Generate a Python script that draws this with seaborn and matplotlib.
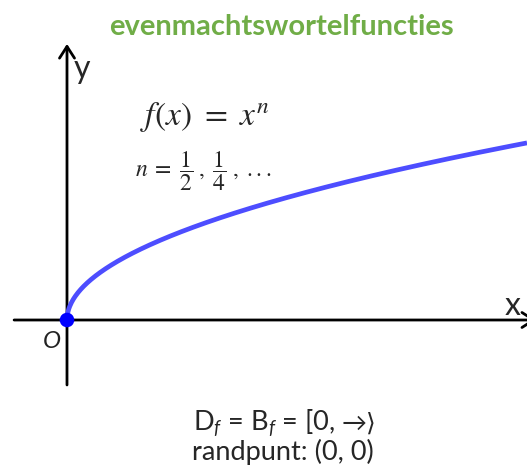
import numpy as np
import pandas as pd
import seaborn as sns
import matplotlib.pyplot as plt

# --------------------------- DATA ---------------------------
title_text = "evenmachtswortelfuncties"
formula_text = r"$f(x)\ =\ x^n$"
exponent_text = r"$n\;=\;\dfrac{1}{2}\;,\;\dfrac{1}{4}\;,\;...$"
domain_text = r"D$_f$ = B$_f$ = [0,"
domain_tail = "→⟩"
endpoint_text = "randpunt: (0, 0)"

n_exp = 0.5                      # curve shown: f(x) = x^(1/2)
x_max = 10.0
endpoint = [0.0, 0.0]            # randpunt (0, 0)

# --------------------------- STYLE ---------------------------
sns.set_theme(style="white")
plt.rcParams["font.family"] = ["Lato", "DejaVu Sans"]
plt.rcParams["mathtext.fontset"] = "custom"
plt.rcParams["mathtext.rm"] = "Lato"
plt.rcParams["mathtext.it"] = "Lato:italic"

fig = plt.figure(figsize=(5.27, 4.73), dpi=100)
ax = fig.add_axes([0, 0, 1, 1])
ax.set_xlim(-1.4565, 10.0)
ax.set_ylim(-2.732, 5.714)
ax.axis("off")

# --------------------------- AXES ---------------------------
arrow = dict(arrowstyle="->,head_length=0.7,head_width=0.45", lw=2, color="black",
             shrinkA=0, shrinkB=0)
ax.annotate("", xy=(10.2, 0), xytext=(-1.15, 0), arrowprops=arrow,
            annotation_clip=False)
ax.annotate("", xy=(0, 4.93), xytext=(0, -1.16), arrowprops=arrow,
            annotation_clip=False)

# --------------------------- CURVE ---------------------------
xs = np.linspace(0, x_max, 500)
df = pd.DataFrame({"x": xs, "y": xs ** n_exp})
sns.lineplot(data=df, x="x", y="y", ax=ax, color="#4d4dff", lw=3.4,
             solid_capstyle="butt", zorder=3)
sns.scatterplot(x=[endpoint[0]], y=[endpoint[1]], ax=ax, color="#0000ff",
                s=110, edgecolor="none", zorder=4)

# --------------------------- TEXT ---------------------------
fig.text(0.533, 0.926, title_text, color="#70ad47", fontsize=21,
         fontweight="bold", ha="center", va="baseline")
fig.text(0.155, 0.854, "y", fontsize=23, ha="center", va="center")
fig.text(0.972, 0.353, "x", fontsize=23, ha="center", va="center")
fig.text(0.0987, 0.278, "O", fontsize=17.5, style="italic", ha="center",
         va="center", color="#222222")
fig.text(0.389, 0.752, formula_text, fontsize=24, ha="center", va="center",
         math_fontfamily="stix")
fig.text(0.385, 0.638, exponent_text, fontsize=17, ha="center", va="center",
         math_fontfamily="stix")
fig.text(0.6357, 0.0888, domain_text, fontsize=19.5, ha="right", va="baseline")
fig.text(0.648, 0.0888, domain_tail, fontsize=18, ha="left", va="baseline")
fig.text(0.536, 0.0275, endpoint_text, fontsize=19.5, ha="center", va="baseline")

fig.savefig("out.png", dpi=100)
